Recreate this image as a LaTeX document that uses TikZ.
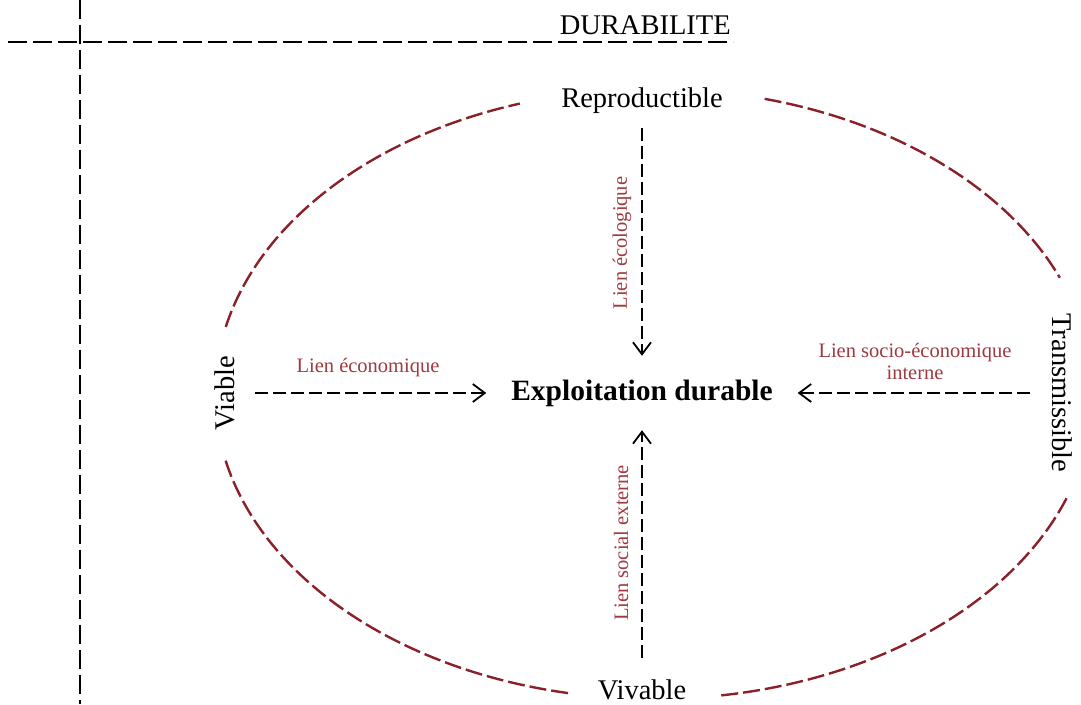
\documentclass[tikz,border=0pt]{standalone}
\usepackage{fontspec}
\setmainfont{Liberation Serif}
\usetikzlibrary{arrows.meta}
\definecolor{arcred}{RGB}{139,32,40}
\definecolor{linkred}{RGB}{158,58,64}
\begin{document}
\begin{tikzpicture}[x=1pt,y=1pt,
  pole/.style={font=\fontsize{28.5}{30}\selectfont, inner sep=0pt},
  link/.style={font=\fontsize{20.5}{22}\selectfont, text=linkred, inner sep=0pt},
  flow/.style={draw=black, line width=1.8pt, dash pattern=on 13pt off 5pt,
    -{Straight Barb[length=12pt,width=18pt]}},
  ring/.style={draw=arcred, line width=2.4pt, dash pattern=on 17pt off 5pt},
  axisline/.style={draw=black, line width=1.8pt, dash pattern=on 19pt off 6pt}]

\useasboundingbox (0,0) rectangle (1081,704);
\fill[white] (0,0) rectangle (1081,704);

% axes
\draw[axisline] (8,662) -- (733,662);
\draw[axisline] (80,704) -- (80,0);
\node[pole, anchor=base east] (dur) at (731,669) {DURABILITE};

% ring of the four qualities
\coordinate (ringc) at (654,310);
\draw[ring] ([shift={(167.3:439pt and 305pt)}]ringc)
  arc[start angle=167.3, end angle=107.8, x radius=439pt, y radius=305pt];
\draw[ring] ([shift={(75.4:439pt and 305pt)}]ringc)
  arc[start angle=75.4, end angle=22.4, x radius=439pt, y radius=305pt];
\draw[ring] ([shift={(-20:439pt and 305pt)}]ringc)
  arc[start angle=-20, end angle=-81.2, x radius=439pt, y radius=305pt];
\draw[ring] ([shift={(-101.3:439pt and 305pt)}]ringc)
  arc[start angle=-101.3, end angle=-167.5, x radius=439pt, y radius=305pt];

% qualities
\node[pole, minimum height=54pt] (rep) at (642,603) {Reproductible};
\node[pole, minimum height=64pt] (viv) at (642,14) {Vivable};
\node[pole, rotate=90, minimum height=60pt] (via) at (225,311) {Viable};
\node[pole, rotate=-90, minimum height=64pt] (tra) at (1062,311) {Transmissible};

% centre
\node[font=\bfseries\fontsize{29.5}{31}\selectfont, inner sep=0pt,
  minimum width=311pt, minimum height=74pt] (core) at (642,311) {Exploitation durable};

% links
\draw[flow] (rep) -- (core);
\draw[flow] (viv) -- (core);
\draw[flow] (via) -- (core);
\draw[flow] (tra) -- (core);

\node[link, anchor=base] (leco) at (368,331) {Lien économique};
\node[link, align=center] (lsoc) at (915,343) {Lien socio-économique\\interne};
\node[link, rotate=90] (lecol) at (622,461) {Lien écologique};
\node[link, rotate=90] (lext) at (621,161) {Lien social externe};
\end{tikzpicture}
\end{document}
